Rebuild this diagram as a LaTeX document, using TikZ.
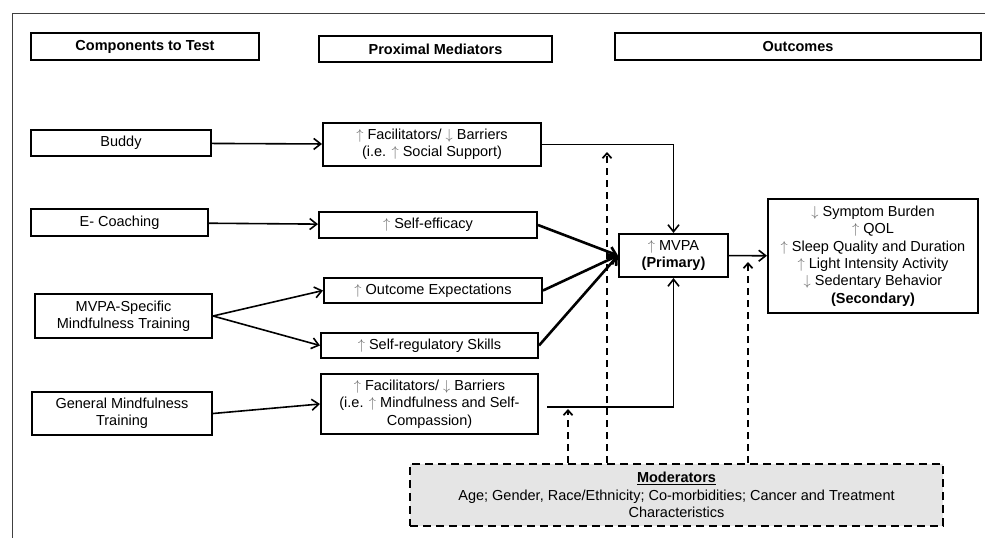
\documentclass[tikz,border=0pt]{standalone}
\usepackage{fontspec}
\setmainfont{Liberation Sans}
\usetikzlibrary{arrows.meta}
\newcommand{\upa}{{\color{black!60}$\uparrow$}}
\newcommand{\dna}{{\color{black!60}$\downarrow$}}

\begin{document}
\begin{tikzpicture}[x=1pt,y=-1pt,
	box/.style={draw,line width=2pt,inner sep=0pt,align=center,font=\fontsize{14.5}{17.3}\selectfont},
	head/.style={box,font=\fontsize{14.5}{17}\selectfont\bfseries},
	arr/.style={line width=1.6pt,-{Straight Barb[length=7pt,width=11pt]}},
	bold arr/.style={arr,line width=2.6pt},
	modarr/.style={line width=1.7pt,dash pattern=on 7pt off 5pt,-{Straight Barb[length=5pt,width=9pt]}}]
		\useasboundingbox (0,0) rectangle (985,538);
		\draw [black!75,line width=0.9pt] (12,538) -- (12,13) -- (985,13);

		\node [head,minimum width=228pt,minimum height=27pt] (hcomp) at (145,46.5) {Components to Test};
		\node [head,minimum width=233pt,minimum height=26pt] (hmed) at (435.5,49) {Proximal Mediators};
		\node [head,minimum width=366pt,minimum height=27pt] (hout) at (798,46.5) {Outcomes};

		\node [box,minimum width=180pt,minimum height=26pt] (buddy) at (121,143) {Buddy};
		\node [box,minimum width=177pt,minimum height=27pt] (ecoach) at (119.5,222.5) {E- Coaching};
		\node [box,minimum width=177pt,minimum height=44pt] (mspec) at (123.5,316) {MVPA-Specific\\Mindfulness Training};
		\node [box,minimum width=180pt,minimum height=43pt] (gmind) at (122,413.5) {General Mindfulness\\Training};

		\node [box,minimum width=218pt,minimum height=43pt] (facsoc) at (432,144.5) {\upa{} Facilitators/ \dna{} Barriers\\(i.e. \upa{} Social Support)};
		\node [box,minimum width=218pt,minimum height=26pt] (selfeff) at (428,225) {\upa{} Self-efficacy};
		\node [box,minimum width=218pt,minimum height=25pt] (outexp) at (433,290.5) {\upa{} Outcome Expectations};
		\node [box,minimum width=217pt,minimum height=25pt] (selfreg) at (429.5,345.5) {\upa{} Self-regulatory Skills};
		\node [box,minimum width=217pt,minimum height=60pt] (facmind) at (429.5,404) {\upa{} Facilitators/ \dna{} Barriers\\(i.e. \upa{} Mindfulness and Self-\\Compassion)};

		\node [box,minimum width=109pt,minimum height=43pt] (mvpa) at (673.5,255.5) {\upa{} MVPA\\\textbf{(Primary)}};
		\node [box,minimum width=210pt,minimum height=114pt] (outc) at (873,256) {\dna{} Symptom Burden\\\upa{} QOL\\\upa{} Sleep Quality and Duration\\\upa{} Light Intensity Activity\\\dna{} Sedentary Behavior\\\textbf{(Secondary)}};

		\node [box,line width=1.8pt,dash pattern=on 8pt off 5pt,fill=black!10,minimum width=533pt,minimum height=62pt] (moder) at (676.5,495) {\textbf{\underline{Moderators}}\\Age; Gender, Race/Ethnicity; Co-morbidities; Cancer and Treatment\\Characteristics};

		\draw [arr] (buddy) -- (facsoc);
		\draw [arr] (ecoach) -- (selfeff);
		\draw [arr] (mspec.east) -- (outexp.west);
		\draw [arr] (mspec.east) -- (selfreg.west);
		\draw [arr] (gmind.east) -- (facmind.west);

		\draw [arr] (facsoc.east) -| (mvpa.north);
		\draw [bold arr] (selfeff.east) -- (mvpa.west);
		\draw [bold arr] (outexp.east) -- (mvpa.west);
		\draw [bold arr] (selfreg.east) -- (mvpa.west);
		\coordinate (fmstart) at (547,407);
		\draw [arr] (fmstart) -| (mvpa.south);
		\draw [arr] (mvpa) -- (outc);

		\coordinate (tipa) at (568,409);
		\coordinate (tipb) at (607,152);
		\coordinate (tipc) at (748,262);
		\draw [modarr] (tipa |- moder.north) -- (tipa);
		\draw [modarr] (tipb |- moder.north) -- (tipb);
		\draw [modarr] (tipc |- moder.north) -- (tipc);
	\end{tikzpicture}
\end{document}
